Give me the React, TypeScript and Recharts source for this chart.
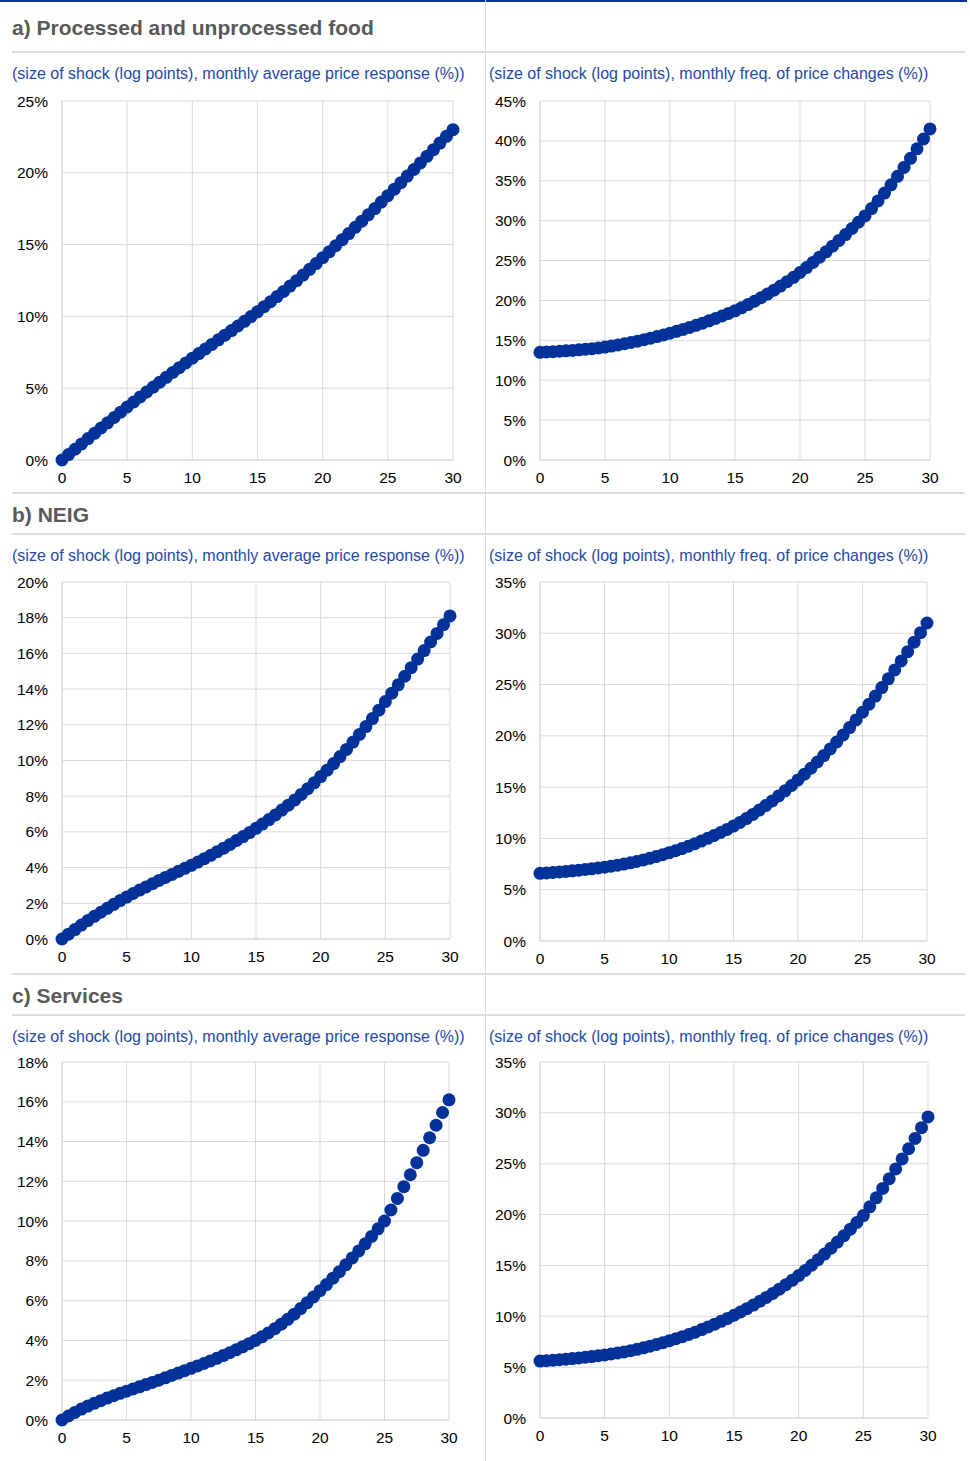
import { CartesianGrid, Scatter, ScatterChart, XAxis, YAxis } from 'recharts'

// shock sizes (log points), one point every half log point
const shockSize = [
  0, 0.5, 1, 1.5, 2, 2.5, 3, 3.5, 4, 4.5, 5, 5.5, 6, 6.5, 7, 7.5, 8, 8.5, 9, 9.5,
  10, 10.5, 11, 11.5, 12, 12.5, 13, 13.5, 14, 14.5, 15, 15.5, 16, 16.5, 17, 17.5, 18, 18.5, 19, 19.5,
  20, 20.5, 21, 21.5, 22, 22.5, 23, 23.5, 24, 24.5, 25, 25.5, 26, 26.5, 27, 27.5, 28, 28.5, 29, 29.5, 30,
]

// a) food
const foodResponse = [
  0, 0.38, 0.75, 1.12, 1.49, 1.86, 2.23, 2.59, 2.96, 3.33, 3.69, 4.04, 4.39, 4.74, 5.08, 5.42, 5.76, 6.1, 6.43, 6.76,
  7.09, 7.41, 7.73, 8.05, 8.37, 8.69, 9.01, 9.33, 9.66, 9.99, 10.32, 10.67, 11.02, 11.38, 11.74, 12.11, 12.49, 12.88, 13.28, 13.68,
  14.09, 14.5, 14.92, 15.34, 15.77, 16.2, 16.63, 17.07, 17.51, 17.96, 18.41, 18.86, 19.31, 19.77, 20.23, 20.69, 21.15, 21.61, 22.07, 22.54, 23.0,
]
const foodFreq = [
  13.5, 13.54, 13.58, 13.63, 13.68, 13.74, 13.81, 13.88, 13.96, 14.05, 14.15, 14.28, 14.42, 14.57, 14.73, 14.9, 15.08, 15.27, 15.47, 15.68,
  15.9, 16.13, 16.37, 16.62, 16.88, 17.15, 17.44, 17.74, 18.05, 18.37, 18.7, 19.08, 19.48, 19.9, 20.34, 20.8, 21.29, 21.8, 22.34, 22.9,
  23.5, 24.12, 24.76, 25.42, 26.1, 26.8, 27.52, 28.26, 29.02, 29.8, 30.6, 31.52, 32.47, 33.46, 34.49, 35.56, 36.67, 37.82, 39.01, 40.24, 41.5,
]

// b) NEIG
const neigResponse = [
  0, 0.27, 0.53, 0.78, 1.03, 1.27, 1.5, 1.72, 1.94, 2.15, 2.35, 2.55, 2.74, 2.92, 3.1, 3.28, 3.45, 3.62, 3.79, 3.96,
  4.13, 4.31, 4.5, 4.69, 4.89, 5.09, 5.3, 5.52, 5.74, 5.96, 6.2, 6.44, 6.69, 6.95, 7.22, 7.5, 7.79, 8.1, 8.42, 8.75,
  9.1, 9.46, 9.83, 10.22, 10.62, 11.03, 11.46, 11.9, 12.35, 12.82, 13.3, 13.77, 14.24, 14.72, 15.2, 15.68, 16.16, 16.64, 17.12, 17.61, 18.1,
]
const neigFreq = [
  6.6, 6.64, 6.68, 6.73, 6.78, 6.84, 6.9, 6.97, 7.04, 7.12, 7.2, 7.29, 7.39, 7.5, 7.62, 7.75, 7.9, 8.06, 8.23, 8.41,
  8.6, 8.8, 9.01, 9.24, 9.48, 9.74, 10.01, 10.29, 10.58, 10.88, 11.2, 11.56, 11.94, 12.34, 12.76, 13.2, 13.66, 14.14, 14.64, 15.16,
  15.7, 16.26, 16.84, 17.45, 18.08, 18.73, 19.4, 20.09, 20.81, 21.55, 22.3, 23.08, 23.88, 24.71, 25.56, 26.43, 27.31, 28.21, 29.13, 30.06, 31.0,
]

// c) services
const servResponse = [
  0, 0.2, 0.38, 0.55, 0.7, 0.84, 0.97, 1.1, 1.22, 1.34, 1.45, 1.56, 1.67, 1.78, 1.89, 2.0, 2.12, 2.24, 2.36, 2.48,
  2.6, 2.72, 2.84, 2.97, 3.1, 3.24, 3.38, 3.53, 3.68, 3.84, 4.0, 4.18, 4.38, 4.59, 4.82, 5.06, 5.32, 5.6, 5.89, 6.19,
  6.5, 6.81, 7.13, 7.46, 7.8, 8.15, 8.5, 8.86, 9.23, 9.61, 10.0, 10.56, 11.14, 11.73, 12.33, 12.94, 13.56, 14.19, 14.82, 15.46, 16.1,
]
const servFreq = [
  5.6, 5.64, 5.68, 5.73, 5.78, 5.84, 5.9, 5.97, 6.04, 6.12, 6.2, 6.29, 6.39, 6.5, 6.62, 6.75, 6.9, 7.06, 7.23, 7.41,
  7.6, 7.79, 7.99, 8.21, 8.44, 8.69, 8.95, 9.22, 9.5, 9.79, 10.1, 10.42, 10.75, 11.1, 11.47, 11.85, 12.25, 12.67, 13.1, 13.54,
  14.0, 14.5, 15.02, 15.56, 16.12, 16.7, 17.3, 17.92, 18.56, 19.22, 19.9, 20.76, 21.65, 22.57, 23.52, 24.49, 25.47, 26.47, 27.49, 28.54, 29.6,
]

const xTicks = [0, 5, 10, 15, 20, 25, 30]
const ticks25 = [0, 5, 10, 15, 20, 25]
const ticks45 = [0, 5, 10, 15, 20, 25, 30, 35, 40, 45]
const ticks35 = [0, 5, 10, 15, 20, 25, 30, 35]
const ticks20 = [0, 2, 4, 6, 8, 10, 12, 14, 16, 18, 20]
const ticks18 = [0, 2, 4, 6, 8, 10, 12, 14, 16, 18]

const sectionTitles = ['a) Processed and unprocessed food', 'b) NEIG', 'c) Services']
const subtitleLeft = '(size of shock (log points), monthly average price response (%))'
const subtitleRight = '(size of shock (log points), monthly freq. of price changes (%))'

const FONT = '"Liberation Sans", Arial, sans-serif'
const BLUE = '#003299'
const SUB_BLUE = '#1f4aa6'
const GRID = '#d9d9d9'
const TICK = { fill: '#000', fontSize: 15.5, fontFamily: FONT }

// plot-area boxes, taken from the reference layout
const panels = [
  { values: foodResponse, ticks: ticks25, col: 0, l: 62, r: 453, t: 101, b: 460 },
  { values: foodFreq, ticks: ticks45, col: 485, l: 540, r: 930, t: 101, b: 460 },
  { values: neigResponse, ticks: ticks20, col: 0, l: 62, r: 450, t: 582, b: 939 },
  { values: neigFreq, ticks: ticks35, col: 485, l: 540, r: 927, t: 582, b: 941 },
  { values: servResponse, ticks: ticks18, col: 0, l: 62, r: 449, t: 1062, b: 1420 },
  { values: servFreq, ticks: ticks35, col: 485, l: 540, r: 928, t: 1062, b: 1418 },
]
const sectionTops = [0, 492, 973]

const Dot = (p: any) => <circle cx={p.cx} cy={p.cy} r={6.5} fill={BLUE} />

function Panel({ p }: { p: (typeof panels)[number] }) {
  const W = 485
  const top = p.t - 20
  const H = p.b - top + 40
  const yW = 50
  const data = shockSize.map((x, i) => ({ x, y: p.values[i] }))
  const max = p.ticks[p.ticks.length - 1]
  return (
    <div style={{ position: 'absolute', left: p.col, top }}>
      <ScatterChart width={W} height={H}
                    margin={{ top: 20, right: W - (p.r - p.col), left: p.l - p.col - yW, bottom: 10 }}>
        <CartesianGrid stroke={GRID} />
        <XAxis type="number" dataKey="x" domain={[0, 30]} ticks={xTicks} interval={0} height={30}
               tick={TICK} tickLine={false} tickMargin={6} axisLine={{ stroke: GRID }} />
        <YAxis type="number" dataKey="y" domain={[0, max]} ticks={p.ticks} interval={0} width={yW}
               tick={TICK} tickLine={false} tickMargin={8} axisLine={{ stroke: GRID }}
               tickFormatter={(v: number) => `${v}%`} />
        <Scatter data={data} fill={BLUE} shape={Dot} isAnimationActive={false} />
      </ScatterChart>
    </div>
  )
}

export default function App() {
  const hr = (y: number) => (
    <div key={`hr${y}`} style={{ position: 'absolute', left: 12, top: y, width: 953, height: 2, background: '#dcdcdc' }} />
  )
  return (
    <div style={{ position: 'absolute', left: 0, top: 0, width: 970, height: 1461, background: '#fff', fontFamily: FONT }}>
      <div style={{ position: 'absolute', left: 0, top: 0, width: 967, height: 2, background: BLUE }} />
      <div style={{ position: 'absolute', left: 485, top: 0, width: 1, height: 1461, background: '#dcdcdc' }} />
      {sectionTops.map((st, i) => (
        <div key={i}>
          {i > 0 && hr(st)}
          {hr(st + (i === 0 ? 51 : 41))}
          <div style={{ position: 'absolute', left: 12, top: st + (i === 0 ? 16 : 11), fontSize: 21, fontWeight: 'bold', color: '#595959' }}>
            {sectionTitles[i]}
          </div>
          <div style={{ position: 'absolute', left: 12, top: st + (i === 0 ? 65 : 55), fontSize: 16, color: SUB_BLUE }}>
            {subtitleLeft}
          </div>
          <div style={{ position: 'absolute', left: 489, top: st + (i === 0 ? 65 : 55), fontSize: 16, color: SUB_BLUE }}>
            {subtitleRight}
          </div>
        </div>
      ))}
      {panels.map((p, i) => <Panel key={i} p={p} />)}
    </div>
  )
}
